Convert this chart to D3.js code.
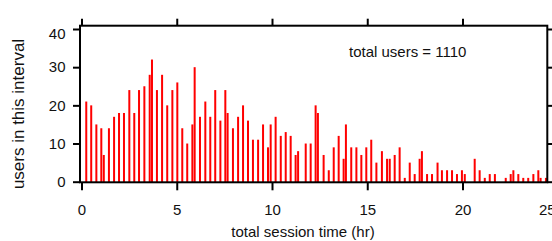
<!DOCTYPE html>
<html>
<head>
<meta charset="utf-8">
<script src="https://cdn.jsdelivr.net/npm/d3@7"></script>
<style>
body { margin: 0; background: #fff; }
svg { display: block; font-family: "Liberation Sans", Arial, sans-serif; }
</style>
</head>
<body>
<div id="chart"></div>
<script>
// bar positions (hr) and users per interval
var hours = [0.25,0.51,0.78,1.04,1.17,1.44,1.71,1.97,2.23,2.51,
	2.77,3.02,3.30,3.58,3.70,3.96,4.23,4.50,4.77,5.03,
	5.29,5.55,5.82,5.94,6.22,6.50,6.76,7.02,7.29,7.55,
	7.67,7.95,8.22,8.48,8.74,9.00,9.27,9.53,9.79,9.93,
	10.19,10.46,10.72,10.98,11.24,11.37,11.77,12.03,12.29,12.41,
	12.71,12.98,13.24,13.50,13.76,13.88,14.16,14.43,14.69,14.95,
	15.21,15.48,15.77,16.04,16.18,16.44,16.70,16.97,17.23,17.49,
	17.75,17.87,18.14,18.40,18.69,18.92,19.19,19.45,19.71,19.97,
	20.12,20.64,20.90,21.17,21.43,21.70,22.27,22.53,22.67,22.93,
	23.19,23.45,23.72,23.98,24.10,24.38];
var users = [21,20,15,14,7,14,17,18,18,24,
	18,24,25,28,32,24,28,20,24,26,
	14,10,15,30,17,21,17,24,16,24,
	18,14,17,20,16,11,11,15,9,15,
	17,12,13,12,7,8,10,10,20,18,
	7,3,9,12,6,15,9,9,7,9,
	11,5,8,6,6,7,9,1,5,2,
	6,8,2,2,5,3,3,3,2,3,
	2,6,3,1,2,2,1,2,3,2,
	1,1,2,3,1,1];
var xTicks = [0, 5, 10, 15, 20, 25];
var yTicks = [0, 10, 20, 30, 40];
var totalUsers = 1110;

var width = 552, height = 241;
var frame = { left: 80, right: 547.3, top: 25.7, bottom: 182.3 };

var x = d3.scaleLinear().domain([0, 20]).range([81.5, 462.5]);
var y = d3.scaleLinear().domain([0, 40]).range([181.7, 29]);

var svg = d3.select("#chart")
	.append("svg")
	.attr("width", width)
	.attr("height", height);

svg.selectAll(".bar")
	.data(hours)
	.enter()
	.append("rect")
	.attr("class", "bar")
	.attr("x", function (d) { return x(d) - 1; })
	.attr("y", function (d, i) { return y(users[i]); })
	.attr("width", 2)
	.attr("height", function (d, i) { return frame.bottom - y(users[i]); })
	.attr("fill", "#ff0000");

// axes
var inFrame = xTicks.filter(function (d) { return x(d) <= frame.right; });

var bottomAxis = svg.append("g")
	.attr("transform", "translate(0," + frame.bottom + ")")
	.call(d3.axisBottom(x).tickValues(xTicks).tickSize(8).tickPadding(14));

// the end label sits on the frame corner
bottomAxis.selectAll(".tick")
	.filter(function (d) { return x(d) > frame.right; })
	.attr("transform", "translate(" + frame.right + ",0)")
	.select("line").remove();

svg.append("g")
	.attr("transform", "translate(0," + frame.top + ")")
	.call(d3.axisTop(x).tickValues(inFrame).tickSize(7).tickFormat(""));

var leftAxis = svg.append("g")
	.attr("transform", "translate(" + frame.left + ",0)")
	.call(d3.axisLeft(y).tickValues(yTicks).tickSize(7).tickPadding(7.5));

leftAxis.selectAll(".tick")
	.filter(function (d) { return d === 40; })
	.select("text").attr("dy", "0.66em");

svg.append("g")
	.attr("transform", "translate(" + frame.right + ",0)")
	.call(d3.axisRight(y).tickValues(yTicks).tickSize(7).tickFormat(""));

svg.selectAll(".domain").remove();
svg.selectAll(".tick line").attr("stroke", "#000").attr("stroke-width", 2);
svg.selectAll(".tick text")
	.attr("fill", "#111")
	.style("font-size", "15px")
	.style("font-family", "'Liberation Sans', Arial, sans-serif");

svg.append("rect")
	.attr("x", frame.left)
	.attr("y", frame.top)
	.attr("width", frame.right - frame.left)
	.attr("height", frame.bottom - frame.top)
	.attr("fill", "none")
	.attr("stroke", "#000")
	.attr("stroke-width", 2);

svg.append("text")
	.attr("x", 303)
	.attr("y", 237)
	.attr("text-anchor", "middle")
	.attr("fill", "#111")
	.style("font-size", "15px")
	.text("total session time (hr)");

svg.append("text")
	.attr("transform", "translate(23.5,114) rotate(-90)")
	.attr("text-anchor", "middle")
	.attr("fill", "#111")
	.style("font-size", "17px")
	.text("users in this interval");

svg.append("text")
	.attr("x", 349)
	.attr("y", 56.5)
	.attr("fill", "#111")
	.style("font-size", "15px")
	.text("total users = " + totalUsers);
</script>
</body>
</html>
